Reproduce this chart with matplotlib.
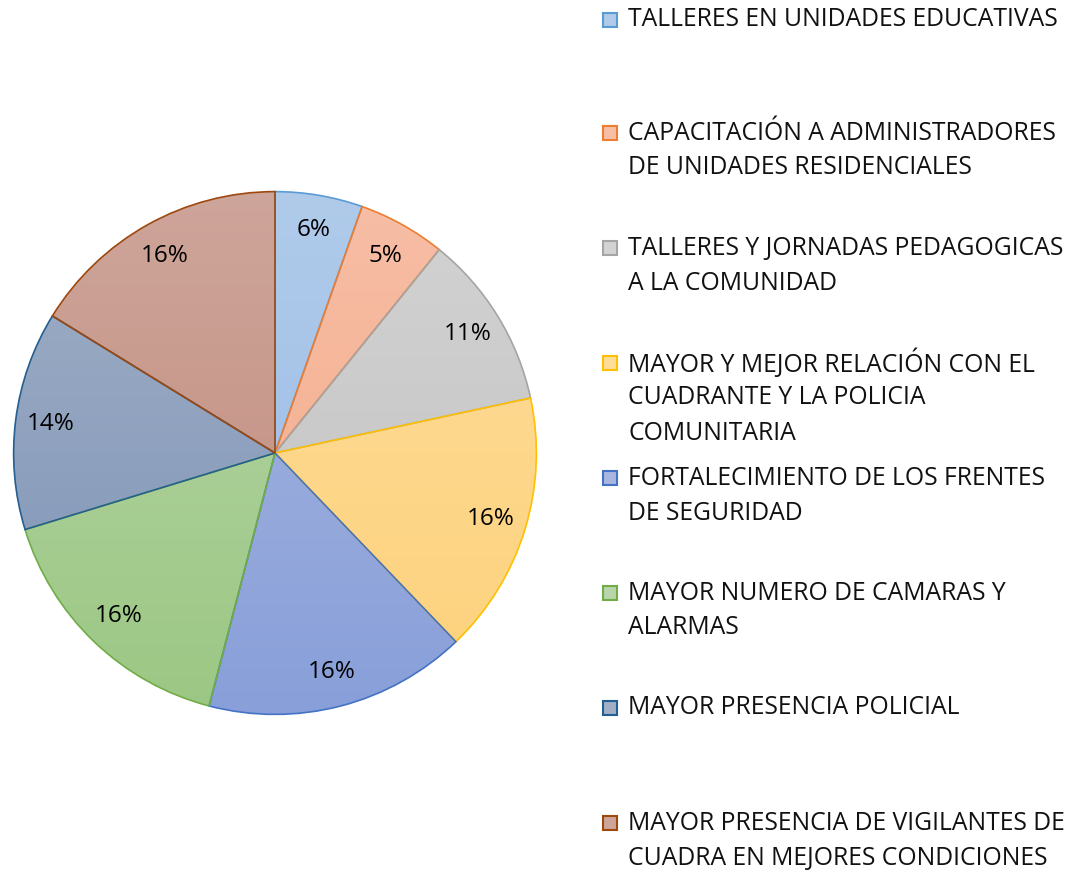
import numpy as np
import matplotlib.pyplot as plt
from matplotlib.colors import LinearSegmentedColormap
from matplotlib.patches import Rectangle

plt.rcParams['font.family'] = ['Open Sans', 'DejaVu Sans']

# Data
categories = [
    "TALLERES EN UNIDADES EDUCATIVAS",
    "CAPACITACIÓN A ADMINISTRADORES\nDE UNIDADES RESIDENCIALES",
    "TALLERES Y JORNADAS PEDAGOGICAS\nA LA COMUNIDAD",
    "MAYOR Y MEJOR RELACIÓN CON EL\nCUADRANTE Y LA POLICIA\nCOMUNITARIA",
    "FORTALECIMIENTO DE LOS FRENTES\nDE SEGURIDAD",
    "MAYOR NUMERO DE CAMARAS Y\nALARMAS",
    "MAYOR PRESENCIA POLICIAL",
    "MAYOR PRESENCIA DE VIGILANTES DE\nCUADRA EN MEJORES CONDICIONES",
]
values = [2, 2, 4, 6, 6, 6, 5, 6]
pct_labels = ["6%", "5%", "11%", "16%", "16%", "16%", "14%", "16%"]

top_colors = ['#b0cbea', '#f7bea6', '#d3d3d3', '#fedc9a', '#a9b7e0', '#b8d6aa', '#a0afc6', '#cea59b']
bottom_colors = ['#98bae6', '#f4a985', '#c0c0c0', '#fdd27c', '#889fd9', '#9bc783', '#7d93b6', '#c08a79']
edge_colors = ['#5B9BD5', '#ED7D31', '#A5A5A5', '#FFC000', '#4472C4', '#70AD47', '#255E91', '#9E480E']

W, H = 1090, 873
fig = plt.figure(figsize=(W / 100, H / 100), dpi=100)

# pie axes: centre (275, 453) px, radius 264 px
cx, cy, r = 275, 453, 264
ax = fig.add_axes([(cx - r) / W, (H - cy - r) / H, 2 * r / W, 2 * r / H])
wedges, texts, autotexts = ax.pie(
    values, startangle=90, counterclock=False, radius=1,
    labels=None, autopct='%1.0f%%', pctdistance=0.865,
    wedgeprops=dict(linewidth=1.2),
    textprops=dict(fontsize=17.5, color='black'))

grad = np.linspace(0, 1, 256).reshape(-1, 1)
for i, w in enumerate(wedges):
    w.set_facecolor('none')
    w.set_edgecolor(edge_colors[i])
    w.set_zorder(3)
    cmap = LinearSegmentedColormap.from_list('g%d' % i, [top_colors[i], bottom_colors[i]])
    im = ax.imshow(grad, cmap=cmap, extent=(-1, 1, -1, 1), aspect='auto',
                   origin='upper', zorder=2)
    im.set_clip_path(w)
    autotexts[i].set_text(pct_labels[i])
    autotexts[i].set_zorder(4)

ax.set_xlim(-1.01, 1.01)
ax.set_ylim(-1.01, 1.01)
ax.axis('off')

# legend on the right
entry_tops = [20, 133, 248, 363, 478, 593, 708, 823]
line_h = 35
for i, lab in enumerate(categories):
    y0 = entry_tops[i]
    fig.patches.append(Rectangle(((603) / W, 1 - (y0 + 7) / H), 14 / W, 14 / H,
                                 transform=fig.transFigure, facecolor=top_colors[i],
                                 edgecolor=edge_colors[i], linewidth=1.5))
    for j, line in enumerate(lab.split('\n')):
        fig.text(628 / W, 1 - (y0 + j * line_h) / H, line, fontsize=17.8,
                 va='center', ha='left', color='#111111')

fig.savefig('out.png', dpi=100)
